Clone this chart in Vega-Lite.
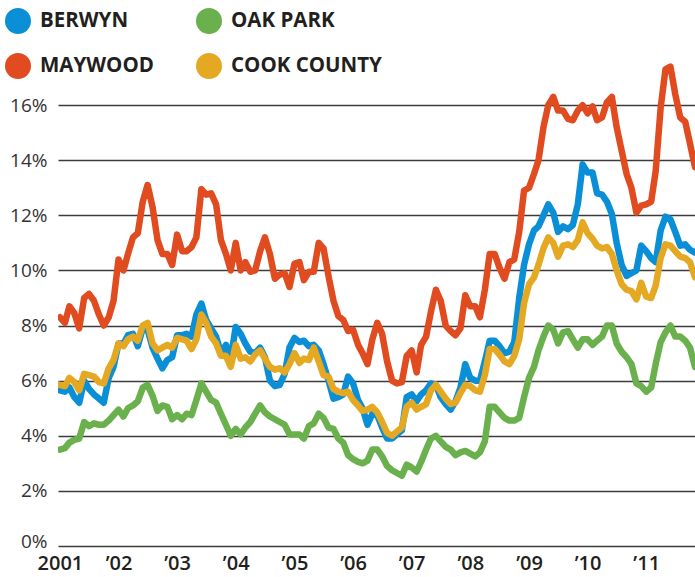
{
"$schema":"https://vega.github.io/schema/vega-lite/v6.json",
"width":637,"height":496,
"autosize":{"type":"none"},
"padding":{"left":58,"top":50,"right":0,"bottom":31},
"background":"#ffffff",
"config":{"font":"Open Sans","view":{"stroke":null}},
"data":{"format":{"parse":{"date":"utc:'%Y-%m'"}},"values":[
{"date":"2001-01","area":"Oak Park","rate":3.5},{"date":"2001-02","area":"Oak Park","rate":3.55},{"date":"2001-03","area":"Oak Park","rate":3.75},{"date":"2001-04","area":"Oak Park","rate":3.85},{"date":"2001-05","area":"Oak Park","rate":3.9},{"date":"2001-06","area":"Oak Park","rate":4.5},{"date":"2001-07","area":"Oak Park","rate":4.35},{"date":"2001-08","area":"Oak Park","rate":4.45},{"date":"2001-09","area":"Oak Park","rate":4.4},{"date":"2001-10","area":"Oak Park","rate":4.4},{"date":"2001-11","area":"Oak Park","rate":4.55},{"date":"2001-12","area":"Oak Park","rate":4.75},
{"date":"2002-01","area":"Oak Park","rate":4.95},{"date":"2002-02","area":"Oak Park","rate":4.7},{"date":"2002-03","area":"Oak Park","rate":5.0},{"date":"2002-04","area":"Oak Park","rate":5.1},{"date":"2002-05","area":"Oak Park","rate":5.25},{"date":"2002-06","area":"Oak Park","rate":5.75},{"date":"2002-07","area":"Oak Park","rate":5.85},{"date":"2002-08","area":"Oak Park","rate":5.45},{"date":"2002-09","area":"Oak Park","rate":4.9},{"date":"2002-10","area":"Oak Park","rate":5.1},{"date":"2002-11","area":"Oak Park","rate":5.05},{"date":"2002-12","area":"Oak Park","rate":4.6},
{"date":"2003-01","area":"Oak Park","rate":4.75},{"date":"2003-02","area":"Oak Park","rate":4.6},{"date":"2003-03","area":"Oak Park","rate":4.8},{"date":"2003-04","area":"Oak Park","rate":4.75},{"date":"2003-05","area":"Oak Park","rate":5.3},{"date":"2003-06","area":"Oak Park","rate":5.9},{"date":"2003-07","area":"Oak Park","rate":5.6},{"date":"2003-08","area":"Oak Park","rate":5.3},{"date":"2003-09","area":"Oak Park","rate":5.2},{"date":"2003-10","area":"Oak Park","rate":4.8},{"date":"2003-11","area":"Oak Park","rate":4.4},{"date":"2003-12","area":"Oak Park","rate":4.0},
{"date":"2004-01","area":"Oak Park","rate":4.25},{"date":"2004-02","area":"Oak Park","rate":4.05},{"date":"2004-03","area":"Oak Park","rate":4.3},{"date":"2004-04","area":"Oak Park","rate":4.5},{"date":"2004-05","area":"Oak Park","rate":4.8},{"date":"2004-06","area":"Oak Park","rate":5.1},{"date":"2004-07","area":"Oak Park","rate":4.85},{"date":"2004-08","area":"Oak Park","rate":4.7},{"date":"2004-09","area":"Oak Park","rate":4.6},{"date":"2004-10","area":"Oak Park","rate":4.5},{"date":"2004-11","area":"Oak Park","rate":4.4},{"date":"2004-12","area":"Oak Park","rate":4.05},
{"date":"2005-01","area":"Oak Park","rate":4.05},{"date":"2005-02","area":"Oak Park","rate":4.05},{"date":"2005-03","area":"Oak Park","rate":3.9},{"date":"2005-04","area":"Oak Park","rate":4.35},{"date":"2005-05","area":"Oak Park","rate":4.45},{"date":"2005-06","area":"Oak Park","rate":4.8},{"date":"2005-07","area":"Oak Park","rate":4.65},{"date":"2005-08","area":"Oak Park","rate":4.3},{"date":"2005-09","area":"Oak Park","rate":4.25},{"date":"2005-10","area":"Oak Park","rate":3.9},{"date":"2005-11","area":"Oak Park","rate":3.75},{"date":"2005-12","area":"Oak Park","rate":3.3},
{"date":"2006-01","area":"Oak Park","rate":3.15},{"date":"2006-02","area":"Oak Park","rate":3.05},{"date":"2006-03","area":"Oak Park","rate":3.0},{"date":"2006-04","area":"Oak Park","rate":3.1},{"date":"2006-05","area":"Oak Park","rate":3.5},{"date":"2006-06","area":"Oak Park","rate":3.5},{"date":"2006-07","area":"Oak Park","rate":3.25},{"date":"2006-08","area":"Oak Park","rate":2.9},{"date":"2006-09","area":"Oak Park","rate":2.75},{"date":"2006-10","area":"Oak Park","rate":2.65},{"date":"2006-11","area":"Oak Park","rate":2.55},{"date":"2006-12","area":"Oak Park","rate":2.95},
{"date":"2007-01","area":"Oak Park","rate":2.85},{"date":"2007-02","area":"Oak Park","rate":2.7},{"date":"2007-03","area":"Oak Park","rate":3.05},{"date":"2007-04","area":"Oak Park","rate":3.5},{"date":"2007-05","area":"Oak Park","rate":3.9},{"date":"2007-06","area":"Oak Park","rate":4.0},{"date":"2007-07","area":"Oak Park","rate":3.8},{"date":"2007-08","area":"Oak Park","rate":3.6},{"date":"2007-09","area":"Oak Park","rate":3.5},{"date":"2007-10","area":"Oak Park","rate":3.3},{"date":"2007-11","area":"Oak Park","rate":3.4},{"date":"2007-12","area":"Oak Park","rate":3.45},
{"date":"2008-01","area":"Oak Park","rate":3.35},{"date":"2008-02","area":"Oak Park","rate":3.25},{"date":"2008-03","area":"Oak Park","rate":3.4},{"date":"2008-04","area":"Oak Park","rate":3.8},{"date":"2008-05","area":"Oak Park","rate":5.05},{"date":"2008-06","area":"Oak Park","rate":5.05},{"date":"2008-07","area":"Oak Park","rate":4.85},{"date":"2008-08","area":"Oak Park","rate":4.65},{"date":"2008-09","area":"Oak Park","rate":4.55},{"date":"2008-10","area":"Oak Park","rate":4.55},{"date":"2008-11","area":"Oak Park","rate":4.65},{"date":"2008-12","area":"Oak Park","rate":5.4},
{"date":"2009-01","area":"Oak Park","rate":6.1},{"date":"2009-02","area":"Oak Park","rate":6.5},{"date":"2009-03","area":"Oak Park","rate":7.1},{"date":"2009-04","area":"Oak Park","rate":7.6},{"date":"2009-05","area":"Oak Park","rate":8.0},{"date":"2009-06","area":"Oak Park","rate":7.85},{"date":"2009-07","area":"Oak Park","rate":7.35},{"date":"2009-08","area":"Oak Park","rate":7.75},{"date":"2009-09","area":"Oak Park","rate":7.8},{"date":"2009-10","area":"Oak Park","rate":7.5},{"date":"2009-11","area":"Oak Park","rate":7.2},{"date":"2009-12","area":"Oak Park","rate":7.5},
{"date":"2010-01","area":"Oak Park","rate":7.5},{"date":"2010-02","area":"Oak Park","rate":7.3},{"date":"2010-03","area":"Oak Park","rate":7.45},{"date":"2010-04","area":"Oak Park","rate":7.6},{"date":"2010-05","area":"Oak Park","rate":8.0},{"date":"2010-06","area":"Oak Park","rate":8.0},{"date":"2010-07","area":"Oak Park","rate":7.35},{"date":"2010-08","area":"Oak Park","rate":7.05},{"date":"2010-09","area":"Oak Park","rate":6.85},{"date":"2010-10","area":"Oak Park","rate":6.6},{"date":"2010-11","area":"Oak Park","rate":5.9},{"date":"2010-12","area":"Oak Park","rate":5.8},
{"date":"2011-01","area":"Oak Park","rate":5.6},{"date":"2011-02","area":"Oak Park","rate":5.75},{"date":"2011-03","area":"Oak Park","rate":6.6},{"date":"2011-04","area":"Oak Park","rate":7.4},{"date":"2011-05","area":"Oak Park","rate":7.75},{"date":"2011-06","area":"Oak Park","rate":8.0},{"date":"2011-07","area":"Oak Park","rate":7.6},{"date":"2011-08","area":"Oak Park","rate":7.6},{"date":"2011-09","area":"Oak Park","rate":7.45},{"date":"2011-10","area":"Oak Park","rate":7.2},{"date":"2011-11","area":"Oak Park","rate":6.5},
{"date":"2001-01","area":"Berwyn","rate":5.65},{"date":"2001-02","area":"Berwyn","rate":5.6},{"date":"2001-03","area":"Berwyn","rate":5.75},{"date":"2001-04","area":"Berwyn","rate":5.4},{"date":"2001-05","area":"Berwyn","rate":5.2},{"date":"2001-06","area":"Berwyn","rate":6.0},{"date":"2001-07","area":"Berwyn","rate":5.7},{"date":"2001-08","area":"Berwyn","rate":5.5},{"date":"2001-09","area":"Berwyn","rate":5.35},{"date":"2001-10","area":"Berwyn","rate":5.2},{"date":"2001-11","area":"Berwyn","rate":6.1},{"date":"2001-12","area":"Berwyn","rate":6.5},
{"date":"2002-01","area":"Berwyn","rate":7.35},{"date":"2002-02","area":"Berwyn","rate":7.35},{"date":"2002-03","area":"Berwyn","rate":7.65},{"date":"2002-04","area":"Berwyn","rate":7.7},{"date":"2002-05","area":"Berwyn","rate":7.25},{"date":"2002-06","area":"Berwyn","rate":7.9},{"date":"2002-07","area":"Berwyn","rate":7.85},{"date":"2002-08","area":"Berwyn","rate":7.2},{"date":"2002-09","area":"Berwyn","rate":6.8},{"date":"2002-10","area":"Berwyn","rate":6.45},{"date":"2002-11","area":"Berwyn","rate":6.75},{"date":"2002-12","area":"Berwyn","rate":6.85},
{"date":"2003-01","area":"Berwyn","rate":7.65},{"date":"2003-02","area":"Berwyn","rate":7.65},{"date":"2003-03","area":"Berwyn","rate":7.7},{"date":"2003-04","area":"Berwyn","rate":7.6},{"date":"2003-05","area":"Berwyn","rate":8.4},{"date":"2003-06","area":"Berwyn","rate":8.8},{"date":"2003-07","area":"Berwyn","rate":8.2},{"date":"2003-08","area":"Berwyn","rate":7.9},{"date":"2003-09","area":"Berwyn","rate":7.6},{"date":"2003-10","area":"Berwyn","rate":7.0},{"date":"2003-11","area":"Berwyn","rate":7.3},{"date":"2003-12","area":"Berwyn","rate":6.8},
{"date":"2004-01","area":"Berwyn","rate":7.95},{"date":"2004-02","area":"Berwyn","rate":7.7},{"date":"2004-03","area":"Berwyn","rate":7.35},{"date":"2004-04","area":"Berwyn","rate":7.05},{"date":"2004-05","area":"Berwyn","rate":7.0},{"date":"2004-06","area":"Berwyn","rate":7.2},{"date":"2004-07","area":"Berwyn","rate":6.85},{"date":"2004-08","area":"Berwyn","rate":6.0},{"date":"2004-09","area":"Berwyn","rate":5.8},{"date":"2004-10","area":"Berwyn","rate":5.85},{"date":"2004-11","area":"Berwyn","rate":6.25},{"date":"2004-12","area":"Berwyn","rate":7.2},
{"date":"2005-01","area":"Berwyn","rate":7.55},{"date":"2005-02","area":"Berwyn","rate":7.4},{"date":"2005-03","area":"Berwyn","rate":7.45},{"date":"2005-04","area":"Berwyn","rate":7.25},{"date":"2005-05","area":"Berwyn","rate":7.3},{"date":"2005-06","area":"Berwyn","rate":7.1},{"date":"2005-07","area":"Berwyn","rate":6.6},{"date":"2005-08","area":"Berwyn","rate":6.0},{"date":"2005-09","area":"Berwyn","rate":5.35},{"date":"2005-10","area":"Berwyn","rate":5.4},{"date":"2005-11","area":"Berwyn","rate":5.5},{"date":"2005-12","area":"Berwyn","rate":6.15},
{"date":"2006-01","area":"Berwyn","rate":5.9},{"date":"2006-02","area":"Berwyn","rate":5.3},{"date":"2006-03","area":"Berwyn","rate":5.0},{"date":"2006-04","area":"Berwyn","rate":4.4},{"date":"2006-05","area":"Berwyn","rate":4.8},{"date":"2006-06","area":"Berwyn","rate":4.75},{"date":"2006-07","area":"Berwyn","rate":4.3},{"date":"2006-08","area":"Berwyn","rate":3.9},{"date":"2006-09","area":"Berwyn","rate":3.9},{"date":"2006-10","area":"Berwyn","rate":4.05},{"date":"2006-11","area":"Berwyn","rate":4.2},{"date":"2006-12","area":"Berwyn","rate":5.4},
{"date":"2007-01","area":"Berwyn","rate":5.5},{"date":"2007-02","area":"Berwyn","rate":5.25},{"date":"2007-03","area":"Berwyn","rate":5.5},{"date":"2007-04","area":"Berwyn","rate":5.65},{"date":"2007-05","area":"Berwyn","rate":5.9},{"date":"2007-06","area":"Berwyn","rate":5.85},{"date":"2007-07","area":"Berwyn","rate":5.4},{"date":"2007-08","area":"Berwyn","rate":5.15},{"date":"2007-09","area":"Berwyn","rate":4.95},{"date":"2007-10","area":"Berwyn","rate":5.25},{"date":"2007-11","area":"Berwyn","rate":5.75},{"date":"2007-12","area":"Berwyn","rate":6.6},
{"date":"2008-01","area":"Berwyn","rate":6.1},{"date":"2008-02","area":"Berwyn","rate":6.0},{"date":"2008-03","area":"Berwyn","rate":6.0},{"date":"2008-04","area":"Berwyn","rate":6.7},{"date":"2008-05","area":"Berwyn","rate":7.45},{"date":"2008-06","area":"Berwyn","rate":7.45},{"date":"2008-07","area":"Berwyn","rate":7.25},{"date":"2008-08","area":"Berwyn","rate":7.0},{"date":"2008-09","area":"Berwyn","rate":7.05},{"date":"2008-10","area":"Berwyn","rate":7.4},{"date":"2008-11","area":"Berwyn","rate":9.0},{"date":"2008-12","area":"Berwyn","rate":10.2},
{"date":"2009-01","area":"Berwyn","rate":10.95},{"date":"2009-02","area":"Berwyn","rate":11.45},{"date":"2009-03","area":"Berwyn","rate":11.6},{"date":"2009-04","area":"Berwyn","rate":12.0},{"date":"2009-05","area":"Berwyn","rate":12.4},{"date":"2009-06","area":"Berwyn","rate":12.1},{"date":"2009-07","area":"Berwyn","rate":11.4},{"date":"2009-08","area":"Berwyn","rate":11.6},{"date":"2009-09","area":"Berwyn","rate":11.5},{"date":"2009-10","area":"Berwyn","rate":11.65},{"date":"2009-11","area":"Berwyn","rate":12.4},{"date":"2009-12","area":"Berwyn","rate":13.85},
{"date":"2010-01","area":"Berwyn","rate":13.55},{"date":"2010-02","area":"Berwyn","rate":13.55},{"date":"2010-03","area":"Berwyn","rate":12.8},{"date":"2010-04","area":"Berwyn","rate":12.75},{"date":"2010-05","area":"Berwyn","rate":12.5},{"date":"2010-06","area":"Berwyn","rate":12.05},{"date":"2010-07","area":"Berwyn","rate":11.0},{"date":"2010-08","area":"Berwyn","rate":10.2},{"date":"2010-09","area":"Berwyn","rate":9.8},{"date":"2010-10","area":"Berwyn","rate":9.9},{"date":"2010-11","area":"Berwyn","rate":10.0},{"date":"2010-12","area":"Berwyn","rate":10.9},
{"date":"2011-01","area":"Berwyn","rate":10.7},{"date":"2011-02","area":"Berwyn","rate":10.45},{"date":"2011-03","area":"Berwyn","rate":10.3},{"date":"2011-04","area":"Berwyn","rate":11.45},{"date":"2011-05","area":"Berwyn","rate":11.95},{"date":"2011-06","area":"Berwyn","rate":11.85},{"date":"2011-07","area":"Berwyn","rate":11.4},{"date":"2011-08","area":"Berwyn","rate":10.9},{"date":"2011-09","area":"Berwyn","rate":10.95},{"date":"2011-10","area":"Berwyn","rate":10.75},{"date":"2011-11","area":"Berwyn","rate":10.65},
{"date":"2001-01","area":"Cook County","rate":5.85},{"date":"2001-02","area":"Cook County","rate":5.8},{"date":"2001-03","area":"Cook County","rate":6.1},{"date":"2001-04","area":"Cook County","rate":5.95},{"date":"2001-05","area":"Cook County","rate":5.65},{"date":"2001-06","area":"Cook County","rate":6.25},{"date":"2001-07","area":"Cook County","rate":6.2},{"date":"2001-08","area":"Cook County","rate":6.15},{"date":"2001-09","area":"Cook County","rate":5.95},{"date":"2001-10","area":"Cook County","rate":5.9},{"date":"2001-11","area":"Cook County","rate":6.45},{"date":"2001-12","area":"Cook County","rate":6.75},
{"date":"2002-01","area":"Cook County","rate":7.35},{"date":"2002-02","area":"Cook County","rate":7.25},{"date":"2002-03","area":"Cook County","rate":7.5},{"date":"2002-04","area":"Cook County","rate":7.6},{"date":"2002-05","area":"Cook County","rate":7.45},{"date":"2002-06","area":"Cook County","rate":8.0},{"date":"2002-07","area":"Cook County","rate":8.1},{"date":"2002-08","area":"Cook County","rate":7.35},{"date":"2002-09","area":"Cook County","rate":7.1},{"date":"2002-10","area":"Cook County","rate":7.2},{"date":"2002-11","area":"Cook County","rate":7.3},{"date":"2002-12","area":"Cook County","rate":7.2},
{"date":"2003-01","area":"Cook County","rate":7.55},{"date":"2003-02","area":"Cook County","rate":7.5},{"date":"2003-03","area":"Cook County","rate":7.45},{"date":"2003-04","area":"Cook County","rate":7.15},{"date":"2003-05","area":"Cook County","rate":7.5},{"date":"2003-06","area":"Cook County","rate":8.4},{"date":"2003-07","area":"Cook County","rate":8.1},{"date":"2003-08","area":"Cook County","rate":7.6},{"date":"2003-09","area":"Cook County","rate":7.35},{"date":"2003-10","area":"Cook County","rate":6.9},{"date":"2003-11","area":"Cook County","rate":6.9},{"date":"2003-12","area":"Cook County","rate":6.5},
{"date":"2004-01","area":"Cook County","rate":7.3},{"date":"2004-02","area":"Cook County","rate":6.8},{"date":"2004-03","area":"Cook County","rate":6.85},{"date":"2004-04","area":"Cook County","rate":6.7},{"date":"2004-05","area":"Cook County","rate":6.95},{"date":"2004-06","area":"Cook County","rate":7.1},{"date":"2004-07","area":"Cook County","rate":6.8},{"date":"2004-08","area":"Cook County","rate":6.5},{"date":"2004-09","area":"Cook County","rate":6.4},{"date":"2004-10","area":"Cook County","rate":6.45},{"date":"2004-11","area":"Cook County","rate":6.3},{"date":"2004-12","area":"Cook County","rate":6.6},
{"date":"2005-01","area":"Cook County","rate":7.0},{"date":"2005-02","area":"Cook County","rate":6.65},{"date":"2005-03","area":"Cook County","rate":6.8},{"date":"2005-04","area":"Cook County","rate":6.75},{"date":"2005-05","area":"Cook County","rate":7.2},{"date":"2005-06","area":"Cook County","rate":6.7},{"date":"2005-07","area":"Cook County","rate":6.2},{"date":"2005-08","area":"Cook County","rate":6.15},{"date":"2005-09","area":"Cook County","rate":5.7},{"date":"2005-10","area":"Cook County","rate":5.6},{"date":"2005-11","area":"Cook County","rate":5.55},{"date":"2005-12","area":"Cook County","rate":5.6},
{"date":"2006-01","area":"Cook County","rate":5.3},{"date":"2006-02","area":"Cook County","rate":5.1},{"date":"2006-03","area":"Cook County","rate":4.9},{"date":"2006-04","area":"Cook County","rate":4.95},{"date":"2006-05","area":"Cook County","rate":5.05},{"date":"2006-06","area":"Cook County","rate":4.85},{"date":"2006-07","area":"Cook County","rate":4.5},{"date":"2006-08","area":"Cook County","rate":4.1},{"date":"2006-09","area":"Cook County","rate":4.0},{"date":"2006-10","area":"Cook County","rate":4.15},{"date":"2006-11","area":"Cook County","rate":4.3},{"date":"2006-12","area":"Cook County","rate":5.05},
{"date":"2007-01","area":"Cook County","rate":5.2},{"date":"2007-02","area":"Cook County","rate":4.95},{"date":"2007-03","area":"Cook County","rate":5.05},{"date":"2007-04","area":"Cook County","rate":5.15},{"date":"2007-05","area":"Cook County","rate":5.65},{"date":"2007-06","area":"Cook County","rate":5.85},{"date":"2007-07","area":"Cook County","rate":5.6},{"date":"2007-08","area":"Cook County","rate":5.35},{"date":"2007-09","area":"Cook County","rate":5.15},{"date":"2007-10","area":"Cook County","rate":5.2},{"date":"2007-11","area":"Cook County","rate":5.55},{"date":"2007-12","area":"Cook County","rate":5.85},
{"date":"2008-01","area":"Cook County","rate":5.8},{"date":"2008-02","area":"Cook County","rate":5.65},{"date":"2008-03","area":"Cook County","rate":5.6},{"date":"2008-04","area":"Cook County","rate":6.2},{"date":"2008-05","area":"Cook County","rate":7.15},{"date":"2008-06","area":"Cook County","rate":7.15},{"date":"2008-07","area":"Cook County","rate":6.95},{"date":"2008-08","area":"Cook County","rate":6.7},{"date":"2008-09","area":"Cook County","rate":6.6},{"date":"2008-10","area":"Cook County","rate":6.9},{"date":"2008-11","area":"Cook County","rate":7.5},{"date":"2008-12","area":"Cook County","rate":8.8},
{"date":"2009-01","area":"Cook County","rate":9.5},{"date":"2009-02","area":"Cook County","rate":9.75},{"date":"2009-03","area":"Cook County","rate":10.2},{"date":"2009-04","area":"Cook County","rate":10.8},{"date":"2009-05","area":"Cook County","rate":11.2},{"date":"2009-06","area":"Cook County","rate":11.0},{"date":"2009-07","area":"Cook County","rate":10.5},{"date":"2009-08","area":"Cook County","rate":10.9},{"date":"2009-09","area":"Cook County","rate":10.95},{"date":"2009-10","area":"Cook County","rate":10.85},{"date":"2009-11","area":"Cook County","rate":11.1},{"date":"2009-12","area":"Cook County","rate":11.75},
{"date":"2010-01","area":"Cook County","rate":11.35},{"date":"2010-02","area":"Cook County","rate":11.15},{"date":"2010-03","area":"Cook County","rate":10.9},{"date":"2010-04","area":"Cook County","rate":10.8},{"date":"2010-05","area":"Cook County","rate":10.85},{"date":"2010-06","area":"Cook County","rate":10.6},{"date":"2010-07","area":"Cook County","rate":10.0},{"date":"2010-08","area":"Cook County","rate":9.5},{"date":"2010-09","area":"Cook County","rate":9.3},{"date":"2010-10","area":"Cook County","rate":9.25},{"date":"2010-11","area":"Cook County","rate":8.95},{"date":"2010-12","area":"Cook County","rate":9.55},
{"date":"2011-01","area":"Cook County","rate":9.05},{"date":"2011-02","area":"Cook County","rate":9.0},{"date":"2011-03","area":"Cook County","rate":9.45},{"date":"2011-04","area":"Cook County","rate":10.45},{"date":"2011-05","area":"Cook County","rate":10.95},{"date":"2011-06","area":"Cook County","rate":10.9},{"date":"2011-07","area":"Cook County","rate":10.7},{"date":"2011-08","area":"Cook County","rate":10.5},{"date":"2011-09","area":"Cook County","rate":10.45},{"date":"2011-10","area":"Cook County","rate":10.3},{"date":"2011-11","area":"Cook County","rate":9.75},
{"date":"2001-01","area":"Maywood","rate":8.3},{"date":"2001-02","area":"Maywood","rate":8.1},{"date":"2001-03","area":"Maywood","rate":8.7},{"date":"2001-04","area":"Maywood","rate":8.45},{"date":"2001-05","area":"Maywood","rate":7.9},{"date":"2001-06","area":"Maywood","rate":9.0},{"date":"2001-07","area":"Maywood","rate":9.15},{"date":"2001-08","area":"Maywood","rate":8.9},{"date":"2001-09","area":"Maywood","rate":8.4},{"date":"2001-10","area":"Maywood","rate":8.0},{"date":"2001-11","area":"Maywood","rate":8.3},{"date":"2001-12","area":"Maywood","rate":8.9},
{"date":"2002-01","area":"Maywood","rate":10.4},{"date":"2002-02","area":"Maywood","rate":10.0},{"date":"2002-03","area":"Maywood","rate":10.6},{"date":"2002-04","area":"Maywood","rate":11.2},{"date":"2002-05","area":"Maywood","rate":11.35},{"date":"2002-06","area":"Maywood","rate":12.5},{"date":"2002-07","area":"Maywood","rate":13.1},{"date":"2002-08","area":"Maywood","rate":12.3},{"date":"2002-09","area":"Maywood","rate":11.1},{"date":"2002-10","area":"Maywood","rate":10.6},{"date":"2002-11","area":"Maywood","rate":10.6},{"date":"2002-12","area":"Maywood","rate":10.2},
{"date":"2003-01","area":"Maywood","rate":11.3},{"date":"2003-02","area":"Maywood","rate":10.7},{"date":"2003-03","area":"Maywood","rate":10.7},{"date":"2003-04","area":"Maywood","rate":10.85},{"date":"2003-05","area":"Maywood","rate":11.2},{"date":"2003-06","area":"Maywood","rate":12.95},{"date":"2003-07","area":"Maywood","rate":12.75},{"date":"2003-08","area":"Maywood","rate":12.8},{"date":"2003-09","area":"Maywood","rate":12.4},{"date":"2003-10","area":"Maywood","rate":11.1},{"date":"2003-11","area":"Maywood","rate":10.6},{"date":"2003-12","area":"Maywood","rate":10.0},
{"date":"2004-01","area":"Maywood","rate":11.0},{"date":"2004-02","area":"Maywood","rate":10.0},{"date":"2004-03","area":"Maywood","rate":10.3},{"date":"2004-04","area":"Maywood","rate":9.95},{"date":"2004-05","area":"Maywood","rate":10.0},{"date":"2004-06","area":"Maywood","rate":10.7},{"date":"2004-07","area":"Maywood","rate":11.2},{"date":"2004-08","area":"Maywood","rate":10.6},{"date":"2004-09","area":"Maywood","rate":9.7},{"date":"2004-10","area":"Maywood","rate":9.85},{"date":"2004-11","area":"Maywood","rate":9.9},{"date":"2004-12","area":"Maywood","rate":9.4},
{"date":"2005-01","area":"Maywood","rate":10.25},{"date":"2005-02","area":"Maywood","rate":10.3},{"date":"2005-03","area":"Maywood","rate":9.65},{"date":"2005-04","area":"Maywood","rate":9.95},{"date":"2005-05","area":"Maywood","rate":9.95},{"date":"2005-06","area":"Maywood","rate":11.0},{"date":"2005-07","area":"Maywood","rate":10.8},{"date":"2005-08","area":"Maywood","rate":9.8},{"date":"2005-09","area":"Maywood","rate":8.9},{"date":"2005-10","area":"Maywood","rate":8.35},{"date":"2005-11","area":"Maywood","rate":8.2},{"date":"2005-12","area":"Maywood","rate":7.8},
{"date":"2006-01","area":"Maywood","rate":7.85},{"date":"2006-02","area":"Maywood","rate":7.3},{"date":"2006-03","area":"Maywood","rate":7.0},{"date":"2006-04","area":"Maywood","rate":6.6},{"date":"2006-05","area":"Maywood","rate":7.5},{"date":"2006-06","area":"Maywood","rate":8.1},{"date":"2006-07","area":"Maywood","rate":7.7},{"date":"2006-08","area":"Maywood","rate":6.7},{"date":"2006-09","area":"Maywood","rate":6.0},{"date":"2006-10","area":"Maywood","rate":5.9},{"date":"2006-11","area":"Maywood","rate":5.95},{"date":"2006-12","area":"Maywood","rate":6.9},
{"date":"2007-01","area":"Maywood","rate":7.1},{"date":"2007-02","area":"Maywood","rate":6.3},{"date":"2007-03","area":"Maywood","rate":7.3},{"date":"2007-04","area":"Maywood","rate":7.6},{"date":"2007-05","area":"Maywood","rate":8.5},{"date":"2007-06","area":"Maywood","rate":9.3},{"date":"2007-07","area":"Maywood","rate":8.9},{"date":"2007-08","area":"Maywood","rate":8.0},{"date":"2007-09","area":"Maywood","rate":7.8},{"date":"2007-10","area":"Maywood","rate":7.65},{"date":"2007-11","area":"Maywood","rate":7.9},{"date":"2007-12","area":"Maywood","rate":9.1},
{"date":"2008-01","area":"Maywood","rate":8.7},{"date":"2008-02","area":"Maywood","rate":8.7},{"date":"2008-03","area":"Maywood","rate":8.3},{"date":"2008-04","area":"Maywood","rate":9.3},{"date":"2008-05","area":"Maywood","rate":10.6},{"date":"2008-06","area":"Maywood","rate":10.6},{"date":"2008-07","area":"Maywood","rate":10.1},{"date":"2008-08","area":"Maywood","rate":9.7},{"date":"2008-09","area":"Maywood","rate":10.3},{"date":"2008-10","area":"Maywood","rate":10.4},{"date":"2008-11","area":"Maywood","rate":11.4},{"date":"2008-12","area":"Maywood","rate":12.9},
{"date":"2009-01","area":"Maywood","rate":13.0},{"date":"2009-02","area":"Maywood","rate":13.5},{"date":"2009-03","area":"Maywood","rate":14.0},{"date":"2009-04","area":"Maywood","rate":15.2},{"date":"2009-05","area":"Maywood","rate":16.0},{"date":"2009-06","area":"Maywood","rate":16.3},{"date":"2009-07","area":"Maywood","rate":15.8},{"date":"2009-08","area":"Maywood","rate":15.8},{"date":"2009-09","area":"Maywood","rate":15.5},{"date":"2009-10","area":"Maywood","rate":15.45},{"date":"2009-11","area":"Maywood","rate":15.8},{"date":"2009-12","area":"Maywood","rate":16.0},
{"date":"2010-01","area":"Maywood","rate":15.7},{"date":"2010-02","area":"Maywood","rate":15.95},{"date":"2010-03","area":"Maywood","rate":15.45},{"date":"2010-04","area":"Maywood","rate":15.55},{"date":"2010-05","area":"Maywood","rate":16.1},{"date":"2010-06","area":"Maywood","rate":16.3},{"date":"2010-07","area":"Maywood","rate":15.2},{"date":"2010-08","area":"Maywood","rate":14.35},{"date":"2010-09","area":"Maywood","rate":13.5},{"date":"2010-10","area":"Maywood","rate":13.0},{"date":"2010-11","area":"Maywood","rate":12.1},{"date":"2010-12","area":"Maywood","rate":12.35},
{"date":"2011-01","area":"Maywood","rate":12.4},{"date":"2011-02","area":"Maywood","rate":12.5},{"date":"2011-03","area":"Maywood","rate":13.6},{"date":"2011-04","area":"Maywood","rate":15.9},{"date":"2011-05","area":"Maywood","rate":17.3},{"date":"2011-06","area":"Maywood","rate":17.4},{"date":"2011-07","area":"Maywood","rate":16.4},{"date":"2011-08","area":"Maywood","rate":15.55},{"date":"2011-09","area":"Maywood","rate":15.4},{"date":"2011-10","area":"Maywood","rate":14.6},{"date":"2011-11","area":"Maywood","rate":13.75}
]},
"mark":{"type":"line","strokeWidth":6.5,"strokeJoin":"round","strokeCap":"round","clip":true},
"encoding":{
"x":{"field":"date","type":"temporal","scale":{"type":"utc","domain":[{"year":2000,"month":12,"date":20,"utc":true},{"year":2011,"month":11,"date":1,"utc":true}]},
"axis":{"title":null,"grid":false,"domain":false,"ticks":false,"labelPadding":7,"labelFont":"Open Sans","labelFontSize":20,"labelFontWeight":600,"labelColor":"#231f20","labelDx":5,"labelAlign":"center","labelFlush":false,
"values":[{"year":2001,"month":1,"date":1,"utc":true},{"year":2002,"month":1,"date":1,"utc":true},{"year":2003,"month":1,"date":1,"utc":true},{"year":2004,"month":1,"date":1,"utc":true},{"year":2005,"month":1,"date":1,"utc":true},{"year":2006,"month":1,"date":1,"utc":true},{"year":2007,"month":1,"date":1,"utc":true},{"year":2008,"month":1,"date":1,"utc":true},{"year":2009,"month":1,"date":1,"utc":true},{"year":2010,"month":1,"date":1,"utc":true},{"year":2011,"month":1,"date":1,"utc":true}],
"labelExpr":"utcyear(datum.value) == 2001 ? '2001' : '\u2019' + utcFormat(datum.value, '%y')"}},
"y":{"field":"rate","type":"quantitative","scale":{"domain":[0,18],"nice":false},
"axis":{"title":null,"domain":false,"ticks":false,"grid":true,"gridColor":"#3c3c3c","gridWidth":1.3,"labelPadding":11,"labelFont":"Open Sans","labelFontSize":19,"labelColor":"#333333","values":[0,2,4,6,8,10,12,14,16],"labelExpr":"datum.value + '%'","labelOffset":{"condition":{"test":"datum.value == 0","value":-5},"value":0}}},
"color":{"field":"area","type":"nominal","scale":{"domain":["Berwyn","Oak Park","Maywood","Cook County"],"range":["#0a8fd6","#6ab04c","#e04b20","#e5a823"]},
"legend":{"orient":"none","legendX":-53,"legendY":-42,"direction":"horizontal","columns":2,"title":null,"padding":0,"symbolType":"circle","symbolSize":676,"symbolStrokeWidth":0,"labelFont":"Open Sans","labelFontSize":20.5,"labelFontWeight":"bold","labelColor":"#231f20","labelOffset":9,"rowPadding":19,"columnPadding":42,"labelExpr":"upper(datum.label)",
"encode":{"symbols":{"update":{"fill":{"scale":"color","field":"value"},"opacity":{"value":1},"strokeWidth":{"value":0}}}}}}
}
}
